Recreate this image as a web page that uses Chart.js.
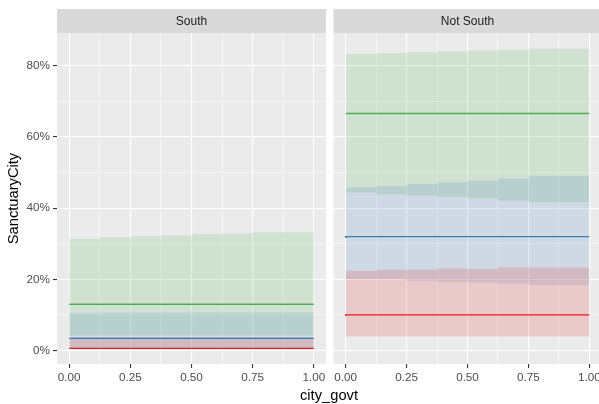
<!DOCTYPE html>
<html>
<head>
<meta charset="utf-8">
<script src="https://cdn.jsdelivr.net/npm/chart.js@4.4.0/dist/chart.umd.min.js"></script>
<style>
  html, body { margin: 0; padding: 0; background: #ffffff; overflow: hidden; }
  #wrap { position: relative; width: 599px; height: 404px; overflow: hidden; }
  canvas { position: absolute; top: 0; }
  #left { left: 0; }
  #right { left: 327px; }
  #xtitle {
    position: absolute; left: 0; width: 658px; top: 387px;
    text-align: center; font: 14.7px "Liberation Sans", Arial, sans-serif; color: #000;
  }
</style>
</head>
<body>
<div id="wrap">
  <canvas id="left" width="330" height="404"></canvas>
  <canvas id="right" width="280" height="404"></canvas>
  <div id="xtitle">city_govt</div>
</div>
<script>
// Facet labels
const panels = ['South', 'Not South'];

// x positions: band steps and fitted-line breaks
const ribbonX = [0, 0.125, 0.25, 0.375, 0.5, 0.625, 0.75, 0.875, 1];
const lineX = [0, 0.5, 1];

// Axis ticks
const xMajor = [0, 0.25, 0.5, 0.75, 1];
const xMinor = [0.125, 0.375, 0.625, 0.875];
const yMajor = [0, 0.2, 0.4, 0.6, 0.8];
const yMinor = [0.1, 0.3, 0.5, 0.7];

// South: fitted share (two halves of city_govt) and band limits per step
const southRedFit    = [0.006, 0.006];
const southRedLow    = [0.004, 0.004, 0.004, 0.004, 0.004, 0.004, 0.004, 0.004];
const southRedHigh   = [0.038, 0.038, 0.038, 0.038, 0.038, 0.038, 0.038, 0.038];
const southBlueFit   = [0.034, 0.034];
const southBlueLow   = [0.005, 0.005, 0.005, 0.005, 0.005, 0.005, 0.005, 0.005];
const southBlueHigh  = [0.105, 0.105, 0.106, 0.106, 0.106, 0.107, 0.107, 0.107];
const southGreenFit  = [0.130, 0.130];
const southGreenLow  = [0.042, 0.042, 0.042, 0.042, 0.042, 0.042, 0.042, 0.042];
const southGreenHigh = [0.311, 0.314, 0.318, 0.321, 0.324, 0.327, 0.329, 0.332];

// Not South
const notSouthRedFit    = [0.097, 0.100];
const notSouthRedLow    = [0.039, 0.039, 0.039, 0.039, 0.039, 0.039, 0.039, 0.039];
const notSouthRedHigh   = [0.224, 0.224, 0.227, 0.227, 0.230, 0.229, 0.234, 0.233];
const notSouthBlueFit   = [0.316, 0.320];
const notSouthBlueLow   = [0.203, 0.201, 0.200, 0.196, 0.193, 0.191, 0.188, 0.184];
const notSouthBlueHigh  = [0.453, 0.458, 0.462, 0.468, 0.473, 0.477, 0.483, 0.491];
const notSouthGreenFit  = [0.666, 0.666];
const notSouthGreenLow  = [0.446, 0.444, 0.439, 0.435, 0.431, 0.427, 0.421, 0.417];
const notSouthGreenHigh = [0.831, 0.833, 0.836, 0.838, 0.841, 0.843, 0.845, 0.848];

const colours = { red: '#E41A1C', blue: '#377EB8', green: '#4DAF4A' };
const bandAlpha = 0.16;

function rgba(hex, a) {
  const n = parseInt(hex.slice(1), 16);
  return 'rgba(' + ((n >> 16) & 255) + ',' + ((n >> 8) & 255) + ',' + (n & 255) + ',' + a + ')';
}
function isIn(list, v) { return list.some(t => Math.abs(t - v) < 1e-9); }

// stepped series: last value repeated so the final step reaches x = 1
function stepPoints(xs, vals) {
  const ys = vals.concat([vals[vals.length - 1]]);
  return xs.map((x, i) => ({ x: x, y: ys[i] }));
}

function buildDatasets(groups) {
  const sets = [];
  groups.forEach(g => {
    sets.push({
      data: stepPoints(lineX, g.fit), stepped: 'after', fill: false,
      borderColor: colours[g.key], borderWidth: 1.4, pointRadius: 0, order: 0
    });
  });
  groups.forEach(g => {
    const lowIndex = sets.length;
    sets.push({
      data: stepPoints(ribbonX, g.low), stepped: 'after', fill: false,
      borderColor: 'rgba(0,0,0,0)', backgroundColor: 'rgba(0,0,0,0)',
      borderWidth: 0, pointRadius: 0, order: 1
    });
    sets.push({
      data: stepPoints(ribbonX, g.high), stepped: 'after', fill: lowIndex,
      borderColor: 'rgba(0,0,0,0)', backgroundColor: rgba(colours[g.key], bandAlpha),
      borderWidth: 0, pointRadius: 0, order: 1
    });
  });
  return sets;
}

// grey panel background and facet strip
const panelPlugin = {
  id: 'panel',
  beforeDraw(chart, args, opts) {
    const a = chart.chartArea, c = chart.ctx;
    c.save();
    c.fillStyle = '#EBEBEB';
    c.fillRect(a.left, a.top, a.right - a.left, a.bottom - a.top);
    c.fillStyle = '#D9D9D9';
    c.fillRect(a.left, 9, a.right - a.left, a.top - 9);
    c.fillStyle = '#1A1A1A';
    c.font = '12px "Liberation Sans", Arial, sans-serif';
    c.textAlign = 'center';
    c.textBaseline = 'middle';
    c.fillText(opts.label, (a.left + a.right) / 2, (9 + a.top) / 2 + 0.5);
    c.restore();
  }
};

const fontFamily = '"Liberation Sans", Arial, sans-serif';
const tickFont = { family: fontFamily, size: 11.7 };

function gridWidth(list) {
  return ctx => (ctx.tick && isIn(list, ctx.tick.value)) ? 1.1 : 0.55;
}
function tickMarkColour(list) {
  return ctx => (ctx.tick && isIn(list, ctx.tick.value)) ? '#333333' : 'rgba(0,0,0,0)';
}

function makePanel(canvasId, label, groups, showY, padding) {
  return new Chart(document.getElementById(canvasId), {
    type: 'line',
    data: { datasets: buildDatasets(groups) },
    plugins: [panelPlugin],
    options: {
      responsive: false,
      animation: false,
      devicePixelRatio: 1,
      layout: { padding: padding, autoPadding: false },
      font: { family: fontFamily },
      plugins: {
        legend: { display: false },
        tooltip: { enabled: false },
        panel: { label: label }
      },
      scales: {
        x: {
          type: 'linear', min: -0.05, max: 1.05,
          afterBuildTicks: s => { s.ticks = xMajor.concat(xMinor).sort((a, b) => a - b).map(v => ({ value: v })); },
          afterFit: s => { s.height = 40; },
          border: { display: false },
          grid: {
            color: '#FFFFFF', lineWidth: gridWidth(xMajor),
            drawTicks: true, tickLength: 4, tickWidth: 1.1, tickColor: tickMarkColour(xMajor)
          },
          ticks: {
            autoSkip: false, maxRotation: 0, minRotation: 0, padding: 3,
            color: '#4D4D4D', font: tickFont,
            callback: v => isIn(xMajor, v) ? v.toFixed(2) : ''
          }
        },
        y: {
          type: 'linear', min: -0.038, max: 0.892,
          afterBuildTicks: s => { s.ticks = yMajor.concat(yMinor).sort((a, b) => a - b).map(v => ({ value: v })); },
          afterFit: s => { s.width = showY ? 57 : 0; },
          border: { display: false },
          grid: {
            color: '#FFFFFF', lineWidth: gridWidth(yMajor),
            drawTicks: showY, tickLength: 4, tickWidth: 1.1, tickColor: tickMarkColour(yMajor)
          },
          ticks: {
            display: showY, padding: 3, color: '#4D4D4D', font: tickFont,
            callback: v => isIn(yMajor, v) ? Math.round(v * 100) + '%' : ''
          },
          title: {
            display: showY, text: 'SanctuaryCity', color: '#000000',
            font: { family: fontFamily, size: 14.7 }, padding: { top: 5.5, bottom: 0 }
          }
        }
      }
    }
  });
}

makePanel('left', panels[0], [
  { key: 'red',   fit: southRedFit,   low: southRedLow,   high: southRedHigh },
  { key: 'blue',  fit: southBlueFit,  low: southBlueLow,  high: southBlueHigh },
  { key: 'green', fit: southGreenFit, low: southGreenLow, high: southGreenHigh }
], true, { top: 33, right: 4, bottom: 0, left: 0 });

makePanel('right', panels[1], [
  { key: 'red',   fit: notSouthRedFit,   low: notSouthRedLow,   high: notSouthRedHigh },
  { key: 'blue',  fit: notSouthBlueFit,  low: notSouthBlueLow,  high: notSouthBlueHigh },
  { key: 'green', fit: notSouthGreenFit, low: notSouthGreenLow, high: notSouthGreenHigh }
], false, { top: 33, right: 5.5, bottom: 0, left: 6.5 });
</script>
</body>
</html>
